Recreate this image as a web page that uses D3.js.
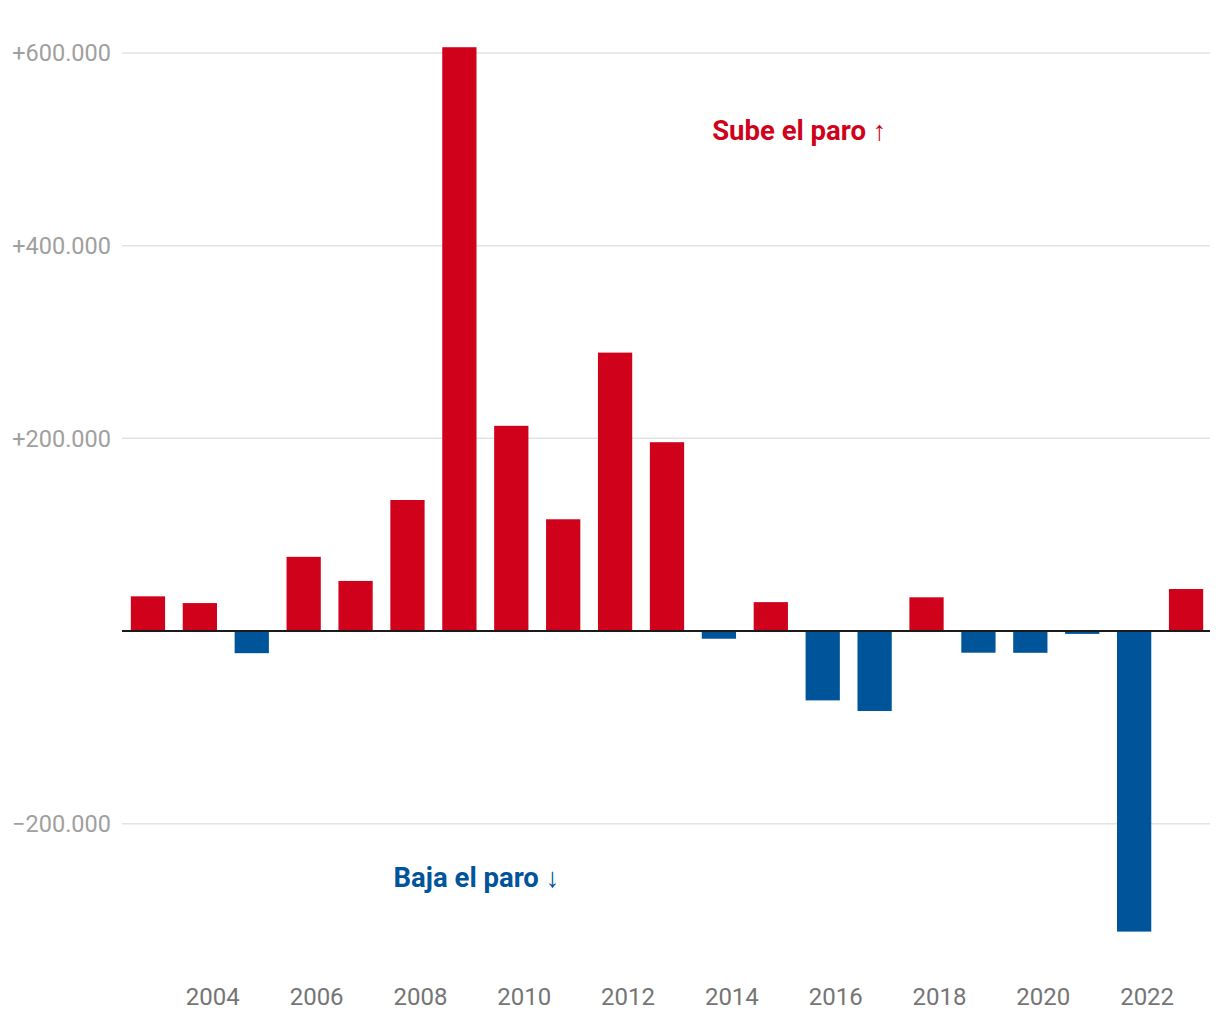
<!DOCTYPE html>
<html><head><meta charset="utf-8">
<script src="https://cdn.jsdelivr.net/npm/d3@7"></script>
<style>body{margin:0;background:#fff;font-family:Roboto,sans-serif}</style>
</head><body><svg id="c" width="1220" height="1020"></svg>
<script>
const years = [2003,2004,2005,2006,2007,2008,2009,2010,2011,2012,2013,2014,2015,2016,2017,2018,2019,2020,2021,2022,2023];
const values = [36000,29000,-23000,77000,52000,136000,606000,213000,116000,289000,196000,-8000,30000,-72000,-83000,35000,-22500,-22600,-3000,-312000,43600];
const yTicks = [-200000,200000,400000,600000];
const xTickYears = [2004,2006,2008,2010,2012,2014,2016,2018,2020,2022];
const annotations = [{text:"Sube el paro ↑", value:520000, year:2015.55, color:"#d0021b"},{text:"Baja el paro ↓", value:-256000, year:2009.33, color:"#00549a"}];

const svg = d3.select("#c");
const x = d3.scaleBand().domain(years).range([122,1212]).paddingInner(0.34).paddingOuter(0.17);
const bw = x.bandwidth();
const xc = d3.scaleLinear().domain([2003,2023]).range([x(2003)+bw/2, x(2023)+bw/2]);
const y = d3.scaleLinear().domain([-200000,600000]).range([823.7,53]);
const fmt = v => (v>0?"+":v<0?"\u2212":"") + d3.format(",")(Math.abs(v)).replace(/,/g,".");

svg.append("g").selectAll("line").data(yTicks).join("line")
  .attr("x1",122).attr("x2",1210).attr("y1",d=>y(d)).attr("y2",d=>y(d))
  .attr("stroke","#e3e3e3").attr("stroke-width",1.5);
svg.append("g").selectAll("text").data(yTicks).join("text")
  .attr("x",111).attr("y",d=>y(d)).attr("dy","0.35em").attr("text-anchor","end")
  .attr("fill","#a0a0a0").style("font-size","23.5px").text(fmt);

svg.append("g").selectAll("rect").data(values).join("rect")
  .attr("x",(d,i)=>x(years[i])).attr("width",bw)
  .attr("y",d=>y(Math.max(0,d))).attr("height",d=>Math.abs(y(d)-y(0)))
  .attr("fill",d=>d>=0?"#d0021b":"#00549a");

svg.append("line").attr("x1",122).attr("x2",1210).attr("y1",y(0)).attr("y2",y(0))
  .attr("stroke","#1a1a1a").attr("stroke-width",2);

svg.append("g").selectAll("text").data(xTickYears).join("text")
  .attr("x",d=>xc(d+0.25)).attr("y",1005).attr("text-anchor","middle")
  .attr("fill","#757575").style("font-size","24px").text(d=>d);

svg.append("g").selectAll("text").data(annotations).join("text")
  .attr("x",d=>xc(d.year)).attr("y",d=>y(d.value)).attr("dy","0.35em")
  .attr("text-anchor","middle").attr("fill",d=>d.color)
  .style("font-size","27.5px").style("font-weight","bold").text(d=>d.text);
</script></body></html>
